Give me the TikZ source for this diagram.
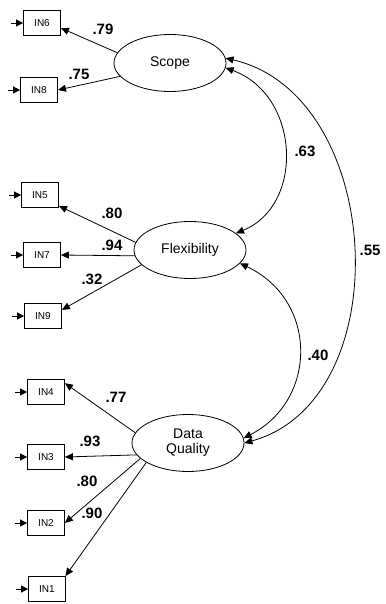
\documentclass[tikz,border=0pt]{standalone}
\usepackage{fontspec}
\setmainfont{Liberation Sans}
\usetikzlibrary{arrows.meta,shapes.geometric}
\begin{document}
\begin{tikzpicture}[x=1pt,y=-1pt,
  every path/.style={line width=0.8pt},
  obs/.style={draw,rectangle,minimum width=37pt,minimum height=25pt,inner sep=0pt,
    font=\fontsize{10}{10}\selectfont},
  lat/.style={draw,ellipse,minimum width=112pt,minimum height=57pt,inner sep=0pt,
    align=center,font=\fontsize{14}{15}\selectfont},
  load/.style={-{Triangle[length=8pt,width=7pt]}},
  corr/.style={{Triangle[length=8pt,width=7pt]}-{Triangle[length=8pt,width=7pt]}},
  err/.style={-{Triangle[length=7pt,width=7pt]}},
  coef/.style={font=\fontsize{15}{15}\selectfont\bfseries,inner sep=0pt}]
\path[use as bounding box] (0,0) rectangle (385,604);

% observed indicators
\node[obs] (in6) at (42,23) {IN6};
\node[obs] (in8) at (39,90) {IN8};
\node[obs] (in5) at (40,195) {IN5};
\node[obs] (in7) at (42,255) {IN7};
\node[obs] (in9) at (43,316) {IN9};
\node[obs] (in4) at (46,392) {IN4};
\node[obs] (in3) at (46,457) {IN3};
\node[obs] (in2) at (46,523) {IN2};
\node[obs] (in1) at (47,589) {IN1};

% latent factors
\node[lat] (scope) at (170,63) {Scope};
\node[lat] (flex) at (190,250) {Flexibility};
\node[lat] (dq) at (188,443) {Data\\Quality};

% error terms
\foreach \n in {in6,in8,in5,in7,in9,in4,in3,in2,in1}
  \draw[err] ([xshift=-12pt]\n.west) -- (\n.west);

% factor loadings
\draw[load] (scope.169) -- (in6.-15);
\draw[load] (scope.195) -- (in8.east);
\draw[load] (flex.172) -- (in5.-30);
\draw[load] (flex.186) -- (in7.east);
\draw[load] (flex.197) -- (in9.18);
\draw[load] (dq.169) -- (in4.25);
\draw[load] (dq.193) -- (in3.east);
\draw[load] (dq.198) -- (in2.east);
\draw[load] (dq.205) -- (in1.35);

\node[coef] (c79) at (103,29) {.79};
\node[coef] (c75) at (79,74) {.75};
\node[coef] (c80a) at (112,213) {.80};
\node[coef] (c94) at (112,245) {.94};
\node[coef] (c32) at (92,279) {.32};
\node[coef] (c77) at (116,397) {.77};
\node[coef] (c93) at (90,441) {.93};
\node[coef] (c80b) at (87,481) {.80};
\node[coef] (c90) at (92,513) {.90};

% factor correlations
\draw[corr] (scope.-5) .. controls (300,95) and (305,205) .. (flex.20);
\draw[corr] (flex.-15) .. controls (318,300) and (318,400) .. (dq.5);
\draw[corr] (scope.5) .. controls (385,95) and (400,400) .. (dq.0);

\node[coef] (c63) at (305,151) {.63};
\node[coef] (c40) at (318,355) {.40};
\node[coef] (c55) at (370,250) {.55};
\end{tikzpicture}
\end{document}
